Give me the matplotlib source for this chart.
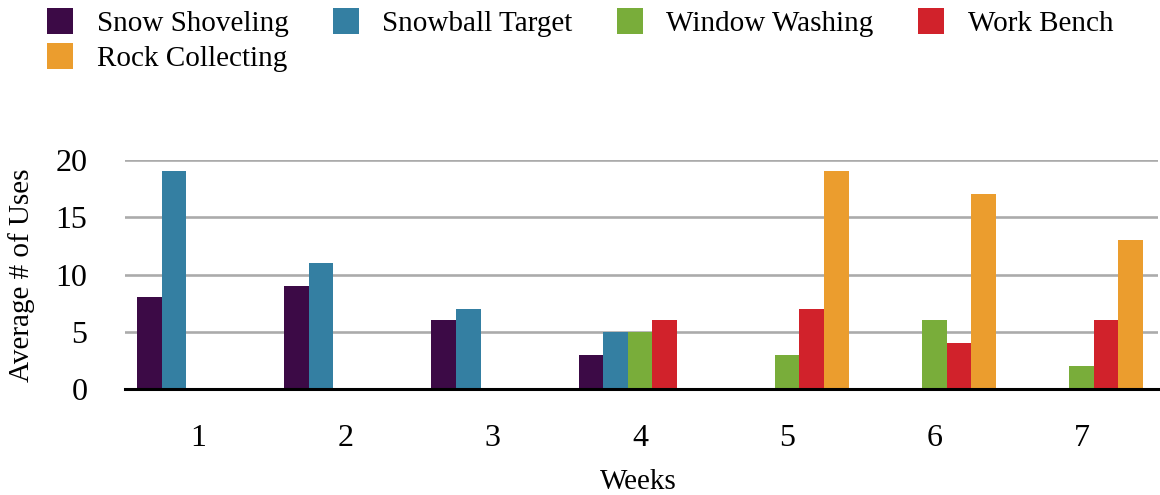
import numpy as np
import matplotlib
matplotlib.use('Agg')
import matplotlib.pyplot as plt
from matplotlib.patches import Patch

plt.rcParams['font.family'] = ['Liberation Serif', 'DejaVu Serif']

# data
weeks = ['1', '2', '3', '4', '5', '6', '7']
series_names = ['Snow Shoveling', 'Snowball Target', 'Window Washing', 'Work Bench', 'Rock Collecting']
snow_shoveling = [8, 9, 6, 3, 0, 0, 0]
snowball_target = [19, 11, 7, 5, 0, 0, 0]
window_washing = [0, 0, 0, 5, 3, 6, 2]
work_bench = [0, 0, 0, 6, 7, 4, 6]
rock_collecting = [0, 0, 0, 0, 19, 17, 13]
colors = ['#3c0a46', '#347fa2', '#79ad3a', '#d1222b', '#eb9d2e']

all_series = [snow_shoveling, snowball_target, window_washing, work_bench, rock_collecting]

fig = plt.figure(figsize=(11.6, 4.95), dpi=100)
ax = fig.add_axes([125 / 1160, 1 - 389 / 495, 1033 / 1160, 229 / 495])

x = np.arange(len(weeks))
w = 0.167
handles = []
for i, (vals, name, c) in enumerate(zip(all_series, series_names, colors)):
    ax.bar(x + (i - 2) * w, vals, width=w, color=c, zorder=3, linewidth=0)
    handles.append(Patch(facecolor=c, label=name))

ax.set_xlim(-0.5, 6.52)
ax.set_ylim(0, 20)
ax.set_yticks([0, 5, 10, 15, 20])
ax.set_xticks(x)
ax.set_xticklabels(weeks)
ax.tick_params(axis='both', length=0, labelsize=23)
ax.tick_params(axis='y', pad=27)
ax.tick_params(axis='x', pad=25)
ax.yaxis.grid(True, color='#ababab', linewidth=1.9, zorder=0)
ax.set_axisbelow(True)
for s in ['top', 'right', 'left']:
    ax.spines[s].set_visible(False)
ax.spines['bottom'].set_color('black')
ax.spines['bottom'].set_linewidth(2.2)
ax.spines['bottom'].set_zorder(4)

fig.text(22 / 1160, 1 - 275 / 495, 'Average # of Uses', rotation=90,
         ha='center', va='center', fontsize=21)
fig.text(638 / 1160, 1 - 482 / 495, 'Weeks', ha='center', va='center', fontsize=21)

# reorder so Rock Collecting sits under Snow Shoveling
order = [0, 4, 1, 2, 3]
fig.legend([handles[k] for k in order], [series_names[k] for k in order],
           loc='upper left', bbox_to_anchor=(47 / 1160, 1 - 8 / 495), ncol=4,
           frameon=False, fontsize=21, borderpad=0, borderaxespad=0,
           handlelength=0.9, handleheight=1.0, handletextpad=0.8,
           columnspacing=1.52, labelspacing=0.2)

fig.savefig('out.png', dpi=100)
